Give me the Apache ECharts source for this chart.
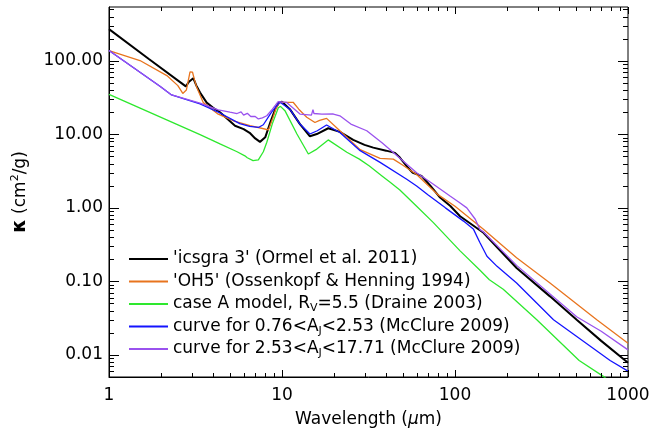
<!DOCTYPE html>
<html>
<head>
<meta charset="utf-8">
<script src="https://cdn.jsdelivr.net/npm/echarts@6/dist/echarts.min.js"></script>
<style>
  html, body { margin: 0; padding: 0; background: #fff; }
  #chart { width: 663px; height: 433px; }
</style>
</head>
<body>
<div id="chart"></div>
<script>
// wavelength (um) / opacity (cm^2/g)
var wlIcsgra = [1, 1.7, 2.78, 2.9, 3.07, 3.2, 3.36, 3.67, 4.0, 4.38, 5.35, 6.0, 6.5, 7.0, 7.46, 8.0, 8.6, 9.2, 9.6, 10, 11.1, 12.7, 14.5, 15.9, 18.5, 21.6, 25.8, 30, 33.7, 40, 45, 48, 53, 57, 64, 72, 82, 94, 107, 146, 227, 354, 505, 700, 1000];
var kIcsgra = [270, 106, 45, 52, 58, 46, 37, 27, 23, 20, 13.1, 11.8, 10.5, 8.8, 7.9, 9.1, 15, 23, 27, 27.8, 22, 13.8, 9.4, 10.1, 12.1, 10.8, 8.4, 7.2, 6.6, 6.0, 5.6, 4.84, 3.6, 3.0, 2.72, 2.0, 1.38, 1.06, 0.77, 0.458, 0.152, 0.0625, 0.030, 0.0155, 0.0078];

var wlOH5 = [1, 1.51, 2.16, 2.5, 2.67, 2.8, 2.94, 3.04, 3.12, 3.21, 3.51, 4.28, 5.23, 6.53, 7.5, 8.35, 8.8, 9.2, 9.7, 11.6, 12.5, 13.9, 15.5, 16.5, 18.1, 21.6, 28.3, 36.9, 44, 50, 60, 80, 100, 146, 227, 354, 660, 1000];
var kOH5 = [138, 101, 63, 46, 36, 40, 71, 70, 55, 44, 27, 18.8, 15.3, 13.1, 12.2, 11.5, 16, 22, 27.3, 27.3, 22, 17.1, 14.5, 15.5, 16.5, 11.2, 6.2, 4.7, 4.6, 3.8, 2.85, 1.5, 1.05, 0.51, 0.21, 0.095, 0.030, 0.0144];

var wlDraine = [1, 3.36, 4.38, 5.5, 6.1, 6.3, 6.8, 7.3, 7.8, 8.17, 8.8, 9.52, 9.8, 10.4, 12.2, 14.2, 15.9, 18.5, 23.7, 28, 32, 38, 42, 48, 60, 75, 107, 139, 158, 190, 297, 522, 720, 1000];
var kDraine = [35, 9.9, 7.4, 5.8, 5.1, 4.8, 4.4, 4.5, 5.8, 7.8, 14, 23, 24, 21, 10.1, 5.4, 6.3, 8.4, 5.7, 4.6, 3.7, 2.7, 2.25, 1.75, 1.05, 0.63, 0.26, 0.143, 0.105, 0.078, 0.030, 0.0084, 0.0051, 0.0028];

var wlMcLow = [1, 1.97, 2.3, 3.36, 4.38, 5.7, 6.5, 7.3, 7.8, 8.7, 9.7, 11.1, 12.7, 14.5, 16, 18.1, 21.6, 28.3, 36.9, 52.6, 60, 70, 88, 112, 128, 139, 153, 175, 227, 371, 788, 1000];
var kMcLow = [138, 45, 34.4, 26, 19.5, 14, 12.8, 12.4, 13.5, 20, 27.5, 22, 13.8, 10.1, 11.2, 13.4, 10.6, 6.0, 4.15, 2.45, 1.98, 1.5, 1.0, 0.66, 0.51, 0.34, 0.22, 0.16, 0.095, 0.030, 0.0084, 0.006];

var wlMcHigh = [1, 1.97, 2.3, 3.36, 4.28, 5, 5.5, 5.8, 6, 6.3, 6.6, 7.0, 7.3, 7.7, 8.17, 8.8, 9.5, 10.6, 12.7, 14.8, 15.1, 15.3, 15.6, 17, 19.8, 21.6, 25, 30.9, 38, 44, 60, 75, 93.6, 105, 117, 131, 139, 146, 227, 505, 700, 1000];
var kMcHigh = [138, 45, 34.4, 26.5, 21.5, 20, 19.2, 20.2, 18.3, 19.3, 17.5, 17.5, 16.2, 16.8, 17.9, 22, 27.8, 27.3, 18.9, 18.3, 21.7, 19.2, 19, 18.8, 18.9, 17.9, 13.8, 11.2, 7.6, 5.66, 3.0, 2.1, 1.45, 1.2, 1.0, 0.70, 0.51, 0.47, 0.165, 0.033, 0.021, 0.0117];

var seriesNames = [
    "'icsgra 3' (Ormel et al. 2011)",
    "'OH5' (Ossenkopf & Henning 1994)",
    "case A model, RV=5.5 (Draine 2003)",
    "curve for 0.76<AJ<2.53 (McClure 2009)",
    "curve for 2.53<AJ<17.71 (McClure 2009)"
];
var legendLabels = [
    "'icsgra 3' (Ormel et al. 2011)",
    "'OH5' (Ossenkopf & Henning 1994)",
    "case A model, R{sub|V}=5.5 (Draine 2003)",
    "curve for 0.76<A{sub|J}<2.53 (McClure 2009)",
    "curve for 2.53<A{sub|J}<17.71 (McClure 2009)"
];
var seriesColors = ['#000000', '#e8741e', '#2ee82e', '#1414ff', '#9a52ee'];
var seriesWidths = [2, 1.3, 1.3, 1.3, 1.3];

// axis ticks
var xMin = 1, xMax = 1000, yMin = 0.005, yMax = 540;
var xMajorTicks = [1, 10, 100, 1000];
var xMinorTicks = [2, 3, 4, 5, 6, 7, 8, 9, 20, 30, 40, 50, 60, 70, 80, 90, 200, 300, 400, 500, 600, 700, 800, 900];
var yMajorTicks = [0.01, 0.1, 1, 10, 100];
var yMinorTicks = [0.006, 0.007, 0.008, 0.009, 0.02, 0.03, 0.04, 0.05, 0.06, 0.07, 0.08, 0.09,
    0.2, 0.3, 0.4, 0.5, 0.6, 0.7, 0.8, 0.9, 2, 3, 4, 5, 6, 7, 8, 9,
    20, 30, 40, 50, 60, 70, 80, 90, 200, 300, 400, 500];

var FONT = 'DejaVu Sans';

function zip(a, b) {
    return a.map(function (v, i) { return [v, b[i]]; });
}

function RenderChart() {
    var dom = document.getElementById('chart');
    var chart = echarts.init(dom, null, {renderer: 'canvas'});

    var ticks = [];
    xMajorTicks.forEach(function (v) { ticks.push({axis: 'x', v: v, len: 7}); });
    xMinorTicks.forEach(function (v) { ticks.push({axis: 'x', v: v, len: 4}); });
    yMajorTicks.forEach(function (v) { ticks.push({axis: 'y', v: v, len: 10}); });
    yMinorTicks.forEach(function (v) { ticks.push({axis: 'y', v: v, len: 5}); });

    var lines = [
        [wlIcsgra, kIcsgra], [wlOH5, kOH5], [wlDraine, kDraine], [wlMcLow, kMcLow], [wlMcHigh, kMcHigh]
    ];
    var series = lines.map(function (d, i) {
        return {
            name: seriesNames[i],
            type: 'line',
            data: zip(d[0], d[1]),
            showSymbol: false,
            symbol: 'none',
            clip: true,
            color: seriesColors[i],
            lineStyle: {color: seriesColors[i], width: seriesWidths[i]},
            z: 2 + i
        };
    });

    // IDL-style inward ticks on all four sides
    series.push({
        type: 'custom',
        silent: true,
        z: 10,
        data: ticks.map(function () { return [1, 1]; }),
        renderItem: function (params, api) {
            var t = ticks[params.dataIndex];
            var cs = params.coordSys;
            var st = {stroke: '#000', lineWidth: 1};
            if (t.axis === 'x') {
                var px = Math.round(api.coord([t.v, 1])[0]) + 0.5;
                return {type: 'group', children: [
                    {type: 'line', shape: {x1: px, y1: cs.y + cs.height, x2: px, y2: cs.y + cs.height - t.len}, style: st},
                    {type: 'line', shape: {x1: px, y1: cs.y, x2: px, y2: cs.y + t.len}, style: st}
                ]};
            }
            var py = Math.round(api.coord([1, t.v])[1]) + 0.5;
            return {type: 'group', children: [
                {type: 'line', shape: {x1: cs.x, y1: py, x2: cs.x + t.len, y2: py}, style: st},
                {type: 'line', shape: {x1: cs.x + cs.width, y1: py, x2: cs.x + cs.width - t.len, y2: py}, style: st}
            ]};
        }
    });

    var option = {
        backgroundColor: '#fff',
        animation: false,
        textStyle: {fontFamily: FONT},
        grid: {
            left: 109, right: 35, top: 7, bottom: 56,
            show: true, borderColor: '#000', borderWidth: 1
        },
        legend: {
            data: seriesNames,
            orient: 'vertical',
            left: 124, top: 244,
            itemWidth: 39, itemHeight: 2, itemGap: 2.5,
            icon: 'rect',
            formatter: function (name) {
                return legendLabels[seriesNames.indexOf(name)];
            },
            textStyle: {
                fontFamily: FONT, fontSize: 17, color: '#000', lineHeight: 20,
                rich: {
                    sub: {fontFamily: FONT, fontSize: 11, lineHeight: 11, verticalAlign: 'top', padding: [9, 0, 0, 0], color: '#000'}
                }
            }
        },
        xAxis: {
            type: 'log', logBase: 10, min: xMin, max: xMax,
            name: 'Wavelength ({mu|μ}m)',
            nameLocation: 'middle', nameGap: 34,
            nameTextStyle: {
                fontFamily: FONT, fontSize: 17, color: '#000',
                rich: {mu: {fontFamily: FONT, fontSize: 17, fontStyle: 'italic', color: '#000'}}
            },
            axisLine: {show: true, lineStyle: {color: '#000', width: 1}},
            axisTick: {show: false},
            splitLine: {show: false},
            axisLabel: {
                fontFamily: FONT, fontSize: 17, color: '#000', margin: 10,
                showMinLabel: true, showMaxLabel: true,
                formatter: function (v) { return String(Math.round(v)); }
            }
        },
        yAxis: {
            type: 'log', logBase: 10, min: yMin, max: yMax,
            name: '{k|κ} (cm{sup|2}/g)',
            nameLocation: 'middle', nameGap: 78, nameRotate: 90,
            nameTextStyle: {
                fontFamily: FONT, fontSize: 17, color: '#000', lineHeight: 21,
                rich: {
                    k: {fontFamily: FONT, fontSize: 19, fontWeight: 'bold', color: '#000', lineHeight: 21},
                    sup: {fontFamily: FONT, fontSize: 11, lineHeight: 11, verticalAlign: 'top', padding: [0, 0, 10, 0], color: '#000'}
                }
            },
            axisLine: {show: true, lineStyle: {color: '#000', width: 1}},
            axisTick: {show: false},
            splitLine: {show: false},
            axisLabel: {
                fontFamily: FONT, fontSize: 17, color: '#000', margin: 6,
                showMinLabel: false, showMaxLabel: false,
                formatter: function (v) { return Number(v).toFixed(2); }
            }
        },
        series: series
    };

    chart.setOption(option);
}

RenderChart();
</script>
</body>
</html>
